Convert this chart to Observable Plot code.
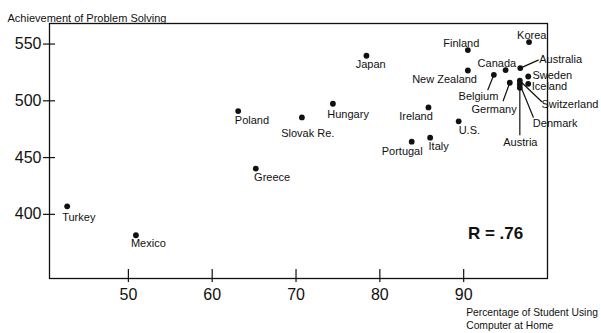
<!DOCTYPE html>
<html><head><meta charset="utf-8">
<script src="https://cdn.jsdelivr.net/npm/d3@7"></script>
<script src="https://cdn.jsdelivr.net/npm/@observablehq/plot@0.6"></script>
<style>html,body{margin:0;padding:0;background:#fff}svg{display:block}</style>
</head><body><div id="chart"></div>
<script>
// ---- data ----
const countries = ["Turkey","Mexico","Poland","Greece","Slovak Re.","Hungary","Japan","Ireland","Portugal","Italy","U.S.","New Zealand","Finland","Belgium","Canada","Germany","Australia","Korea","Sweden","Iceland","Switzerland","Denmark","Austria"];
const computerPct = [42.7,50.9,63.1,65.2,70.7,74.4,78.4,85.8,83.8,86.0,89.4,90.5,90.5,93.6,95.0,95.5,96.75,97.8,97.7,97.7,96.7,96.7,96.7];
const problemSolving = [407.1,381.6,491.0,440.3,485.4,497.4,539.7,494.2,464.0,467.5,481.9,526.7,544.7,522.9,527.1,515.9,528.8,551.7,521.4,515.0,517.7,514.6,511.5];
const xTicks = [50,60,70,80,90];
const yTicks = [400,450,500,550];
const yTitle = "Achievement of Problem Solving";
const xTitle = "Percentage of Student Using\nComputer at Home";
const rLabel = "R = .76";

// ---- styling (pixel offsets for labels and leader lines) ----
const labelOffset = {
  "Turkey":[-5,11],"Mexico":[-5,8.6],"Poland":[-3.4,9.7],"Greece":[-1.7,8.7],"Slovak Re.":[-20.7,16],
  "Hungary":[-5.6,10.3],"Japan":[-10.7,8.3],"Ireland":[-29.3,8.6],"Portugal":[-30,9.7],"Italy":[-1.6,9],
  "U.S.":[0,9.3],"New Zealand":[-55.7,9.3],"Finland":[-24.6,-6.6],"Belgium":[-35.3,21.7],"Canada":[-28,-6.6],
  "Germany":[-38.3,27],"Australia":[19,-9],"Korea":[-12,-7],"Sweden":[4.2,-1],"Iceland":[3.5,3],
  "Switzerland":[21.7,24],"Denmark":[13,38.8],"Austria":[-16.6,55]
};
const leaderOffset = {
  "Australia":[18,-8],"Belgium":[-6,15],"Germany":[-6.6,18],"Switzerland":[22,21],"Denmark":[13.5,33],"Austria":[0,47]
};

const data = countries.map((c,i)=>({country:c, x:computerPct[i], y:problemSolving[i]}));

const W = 601, H = 333, mL = 49, mR = 54, mT = 23, mB = 55;
const plotW = W - mL - mR, plotH = H - mT - mB;
const font = "'Liberation Sans', Arial, Helvetica, sans-serif";
const line = {draw(ctx, l){ ctx.moveTo(0,0); ctx.lineTo(0,-l); }};

const labelMarks = data.map(d => {
  const [dx,dy] = labelOffset[d.country];
  return Plot.text([d], {x:"x", y:"y", text:"country", dx, dy, textAnchor:"start", fontSize:11, fill:"#111"});
});
const leaderMarks = data.filter(d => leaderOffset[d.country]).map(d => {
  const [ex,ey] = leaderOffset[d.country];
  return Plot.vector([d], {x:"x", y:"y", length: Math.hypot(ex,ey), rotate: Math.atan2(ex,-ey)*180/Math.PI,
    anchor:"start", shape: line, stroke:"#111", strokeWidth:1.2});
});

const chart = Plot.plot({
  width: W, height: H,
  marginLeft: mL, marginRight: mR, marginTop: mT, marginBottom: mB,
  style: {fontFamily: font, background: "#fff", color: "#111"},
  x: {domain: [40.59, 100.0], label: null},
  y: {domain: [343.5, 568.1], label: null},
  marks: [
    Plot.frame({stroke:"#111", strokeWidth:1.3}),
    Plot.tickY(yTicks, {y: d=>d, insetLeft:-6, insetRight: plotW-6, stroke:"#111", strokeWidth:1.2}),
    Plot.tickX(xTicks, {x: d=>d, insetTop: plotH-9, insetBottom:-4, stroke:"#111", strokeWidth:1.2}),
    Plot.axisY({ticks: yTicks, tickSize:0, tickPadding:8, fontSize:16, label:null}),
    Plot.axisX({ticks: xTicks, tickSize:0, tickPadding:10, fontSize:16, label:null}),
    ...leaderMarks,
    Plot.dot(data, {x:"x", y:"y", r:2.9, fill:"#111", stroke:"none"}),
    ...labelMarks,
    Plot.text([yTitle], {frameAnchor:"top-left", dx:-42, dy:-9, textAnchor:"start", fontSize:11, fill:"#111"}),
    Plot.text([xTitle], {frameAnchor:"bottom-right", dx:-81.3, dy:39.8, textAnchor:"start", lineAnchor:"middle", lineHeight:1.28, fontSize:10.3, fill:"#111"}),
    Plot.text([rLabel], {frameAnchor:"bottom-right", dx:-24.3, dy:-39.7, textAnchor:"end", fontSize:17, fontWeight:"bold", fill:"#111"})
  ]
});
document.getElementById("chart").appendChild(chart);
</script>
</body></html>
